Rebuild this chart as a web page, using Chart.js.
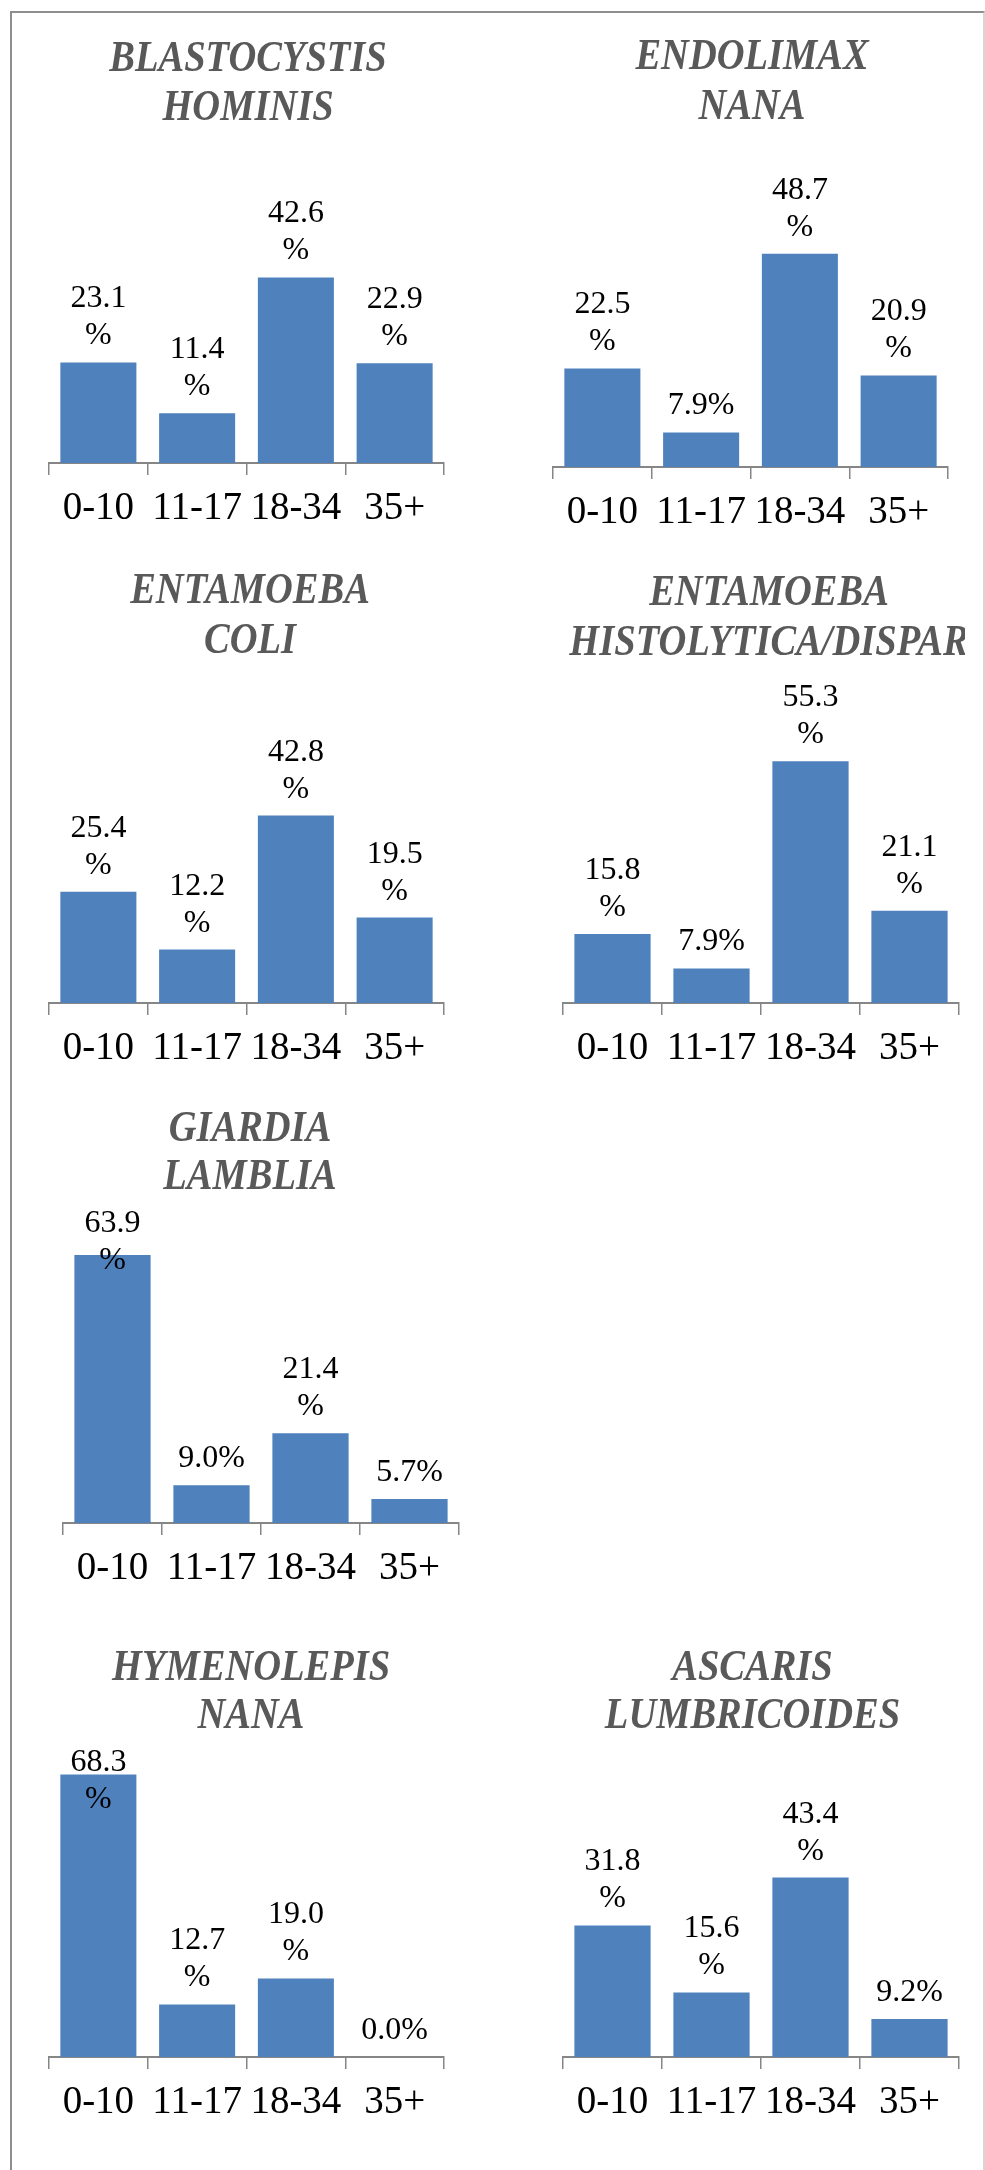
<!DOCTYPE html>
<html>
<head>
<meta charset="utf-8">
<script src="https://cdn.jsdelivr.net/npm/chart.js@4.4.1/dist/chart.umd.min.js"></script>
<style>
  html, body { margin: 0; padding: 0; background: #ffffff; }
  body { width: 985px; height: 2170px; position: relative; overflow: hidden; }
  #frame {
    position: absolute; left: 10px; top: 11px; width: 971px; height: 2220px;
    border-left: 2px solid #8e8e8e; border-top: 2px solid #8e8e8e; border-right: 2px solid #d6d6d6;
  }
  .panel { position: absolute; }
</style>
</head>
<body>
<div id="frame"></div>
<div id="panels"></div>
<script>
// Age groups on every x axis
const ageGroups = ['0-10', '11-17', '18-34', '35+'];

// Share of positive cases per age group (%)
const blastocystisHominis   = [23.1, 11.4, 42.6, 22.9];
const endolimaxNana         = [22.5, 7.9, 48.7, 20.9];
const entamoebaColi         = [25.4, 12.2, 42.8, 19.5];
const entamoebaHistolytica  = [15.8, 7.9, 55.3, 21.1];
const giardiaLamblia        = [63.9, 9.0, 21.4, 5.7];
const hymenolepisNana       = [68.3, 12.7, 19.0, 0.0];
const ascarisLumbricoides   = [31.8, 15.6, 43.4, 9.2];

// Chart titles (two lines each)
const titleBlastocystis = ['BLASTOCYSTIS', 'HOMINIS'];
const titleEndolimax    = ['ENDOLIMAX', 'NANA'];
const titleColi         = ['ENTAMOEBA', 'COLI'];
const titleHistolytica  = ['ENTAMOEBA', 'HISTOLYTICA/DISPAR'];
const titleGiardia      = ['GIARDIA', 'LAMBLIA'];
const titleHymenolepis  = ['HYMENOLEPIS', 'NANA'];
const titleAscaris      = ['ASCARIS', 'LUMBRICOIDES'];

// Page placement of each small chart
const panels = [
  { title: titleBlastocystis, values: blastocystisHominis,  yMax: 65, axisLeft: 49,  axisRight: 444, axisY: 463.3,  plotTop: 179.9,  titleBase: 70.7, titleStep: 49.5, titleX: 248 },
  { title: titleEndolimax,    values: endolimaxNana,        yMax: 70, axisLeft: 553, axisRight: 948, axisY: 467,    plotTop: 160.4,  titleBase: 69,   titleStep: 50,   titleX: 752 },
  { title: titleColi,         values: entamoebaColi,        yMax: 65, axisLeft: 49,  axisRight: 444, axisY: 1002.7, plotTop: 718.3,  titleBase: 603,  titleStep: 50,   titleX: 250 },
  { title: titleHistolytica,  values: entamoebaHistolytica, yMax: 75, axisLeft: 563, axisRight: 959, axisY: 1002.7, plotTop: 675,    titleBase: 605,  titleStep: 50,   titleX: 769 },
  { title: titleGiardia,      values: giardiaLamblia,       yMax: 75, axisLeft: 63,  axisRight: 459, axisY: 1523.3, plotTop: 1208.3, titleBase: 1141, titleStep: 47.5, titleX: 250 },
  { title: titleHymenolepis,  values: hymenolepisNana,      yMax: 75, axisLeft: 49,  axisRight: 444, axisY: 2057.3, plotTop: 1746.8, titleBase: 1680, titleStep: 47.5, titleX: 251 },
  { title: titleAscaris,      values: ascarisLumbricoides,  yMax: 65, axisLeft: 563, axisRight: 959, axisY: 2057.3, plotTop: 1788.2, titleBase: 1680, titleStep: 47.5, titleX: 752.5 }
];

const BAR_COLOR = '#4F81BD';
const AXIS_COLOR = '#868686';
const AXIS_BAND = 75;
const SIDE_PAD = 6;

// Two-line bold italic heading, drawn slightly tall like the original Cambria face
const stretchedTitle = {
  id: 'stretchedTitle',
  afterDraw(chart, args, opts) {
    const { ctx, chartArea } = chart;
    const cx = (chartArea.left + chartArea.right) / 2 + opts.shift;
    ctx.save();
    ctx.font = 'italic bold 38.5px "Liberation Serif"';
    ctx.fillStyle = '#595959';
    ctx.textAlign = 'center';
    ctx.textBaseline = 'alphabetic';
    opts.lines.forEach((line, k) => {
      ctx.save();
      ctx.translate(cx, opts.baseline + opts.step * k);
      ctx.scale(1, opts.stretch);
      ctx.fillText(line, 0, 0);
      ctx.restore();
    });
    ctx.restore();
  }
};

// Value labels above each bar; long labels wrap the "%" onto a second line
const valueLabels = {
  id: 'valueLabels',
  afterDatasetsDraw(chart) {
    const { ctx, chartArea } = chart;
    const meta = chart.getDatasetMeta(0);
    const values = chart.data.datasets[0].data;
    ctx.save();
    ctx.font = '32px "Liberation Serif"';
    ctx.fillStyle = '#000000';
    ctx.textAlign = 'center';
    ctx.textBaseline = 'alphabetic';
    const step = 37;
    meta.data.forEach((bar, i) => {
      const num = values[i].toFixed(1);
      const full = num + '%';
      const lines = ctx.measureText(full).width > 75 ? [num, '%'] : [full];
      let base = bar.y - 18 - step * (lines.length - 1);
      base = Math.max(base, chartArea.top + 24);
      lines.forEach((line, k) => ctx.fillText(line, bar.x, base + step * k));
    });
    ctx.restore();
  }
};

const host = document.getElementById('panels');

panels.forEach((p) => {
  const axisCenter = (p.axisLeft + p.axisRight) / 2;
  const top = Math.round(p.titleBase - 42);
  const left = p.axisLeft - SIDE_PAD;
  const width = Math.round(p.axisRight - p.axisLeft) + 2 * SIDE_PAD;
  const height = Math.round(p.axisY - top) + AXIS_BAND;

  const wrap = document.createElement('div');
  wrap.className = 'panel';
  wrap.style.left = left + 'px';
  wrap.style.top = top + 'px';
  wrap.style.width = width + 'px';
  wrap.style.height = height + 'px';
  const canvas = document.createElement('canvas');
  canvas.width = width;
  canvas.height = height;
  canvas.style.width = width + 'px';
  canvas.style.height = height + 'px';
  wrap.appendChild(canvas);
  host.appendChild(wrap);

  new Chart(canvas, {
    type: 'bar',
    data: {
      labels: ageGroups,
      datasets: [{
        data: p.values,
        backgroundColor: BAR_COLOR,
        borderWidth: 0,
        barPercentage: 0.77,
        categoryPercentage: 1.0
      }]
    },
    options: {
      responsive: false,
      animation: false,
      devicePixelRatio: 1,
      layout: { padding: { left: SIDE_PAD, right: SIDE_PAD, top: p.plotTop - top, bottom: 0 } },
      plugins: {
        legend: { display: false },
        tooltip: { enabled: false },
        title: { display: false },
        stretchedTitle: {
          lines: p.title,
          shift: p.titleX - axisCenter,
          baseline: p.titleBase - top,
          step: p.titleStep,
          stretch: 1.14
        }
      },
      scales: {
        x: {
          grid: {
            display: true,
            offset: true,
            drawOnChartArea: false,
            drawTicks: true,
            tickLength: 12,
            color: AXIS_COLOR,
            lineWidth: 1.5
          },
          border: { display: true, color: AXIS_COLOR, width: 2 },
          ticks: {
            color: '#000000',
            padding: 10,
            maxRotation: 0,
            autoSkip: false,
            font: { family: '"Liberation Serif"', size: 39 }
          },
          afterFit: (s) => { s.height = AXIS_BAND; }
        },
        y: {
          display: false,
          min: 0,
          max: p.yMax
        }
      }
    },
    plugins: [valueLabels, stretchedTitle]
  });
});
</script>
</body>
</html>
